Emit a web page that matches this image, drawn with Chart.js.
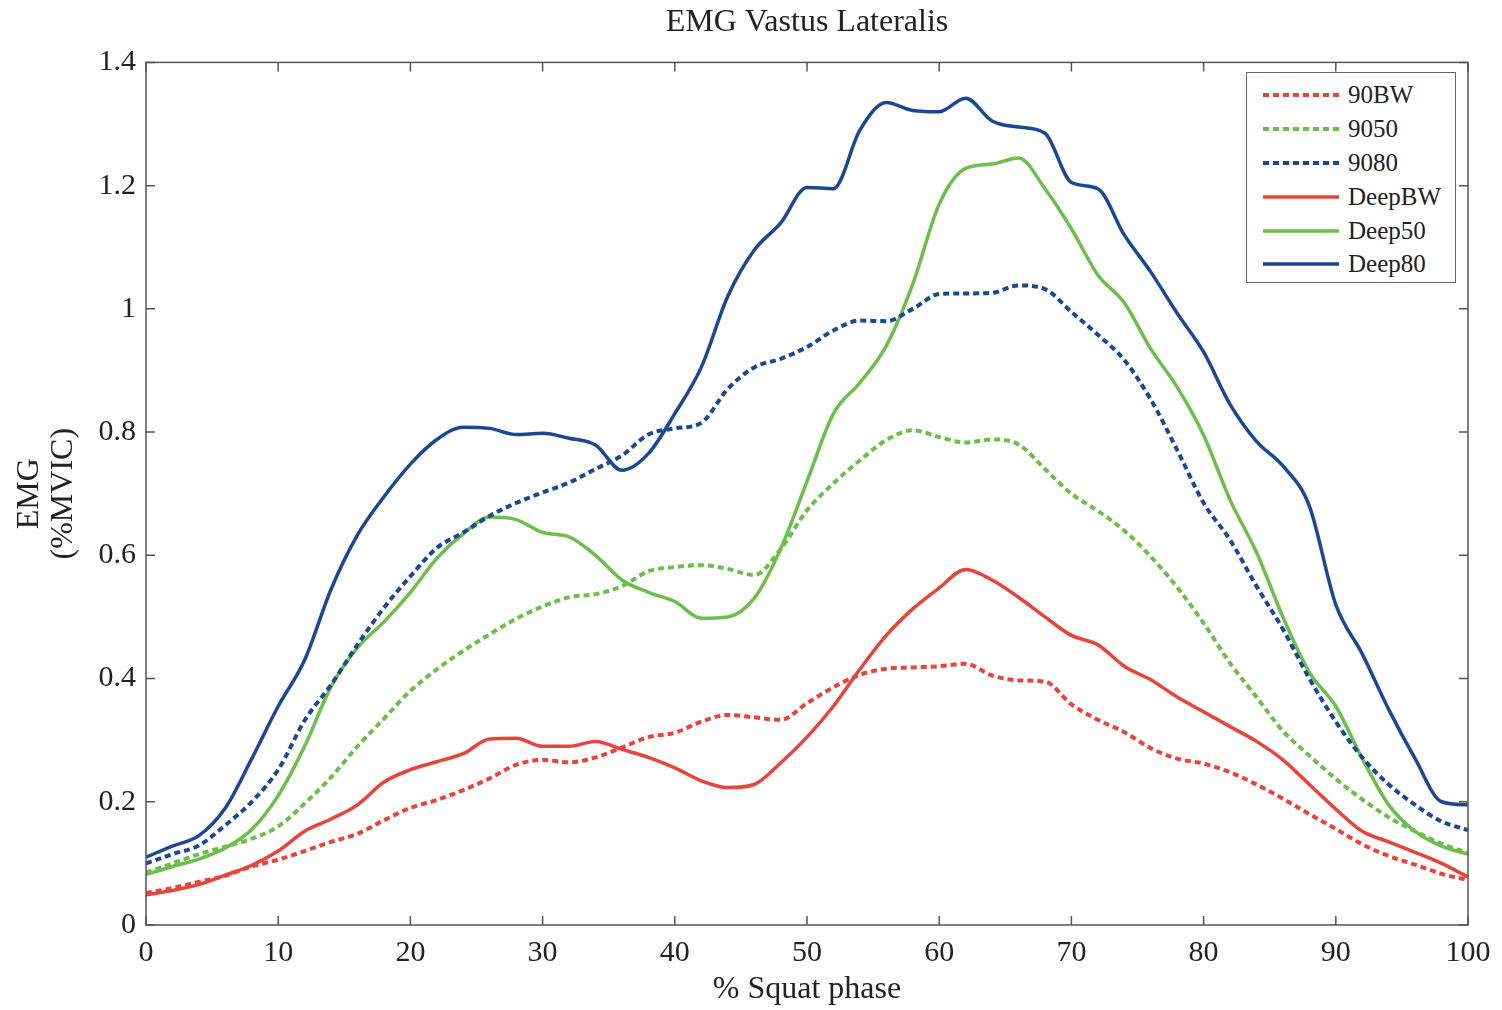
<!DOCTYPE html>
<html>
<head>
<meta charset="utf-8">
<title>EMG Vastus Lateralis</title>
<script src="https://cdn.jsdelivr.net/npm/chart.js@4.4.1/dist/chart.umd.min.js"></script>
<style>
    html, body { margin: 0; padding: 0; background: #fff; }
    #wrap { position: relative; width: 1502px; height: 1010px; }
    #legenda {
        position: absolute; left: 1246px; top: 72px; width: 210px; height: 211px;
        box-sizing: border-box; border: 1.5px solid #666; background: #fff;
        font-family: "Liberation Serif", "DejaVu Serif", serif; font-size: 25px; color: #222;
    }
    .item { position: absolute; left: 15px; height: 30px; display: flex; align-items: center; white-space: nowrap; }
    .item svg { width: 78px; height: 10px; margin-right: 8px; }
</style>
</head>
<body>
<div id="wrap">
    <canvas id="grafico-emg" width="1502" height="1010"></canvas>
    <div id="legenda"></div>
</div>
<script>
// Dados (EMG do vasto lateral, % da fase do agachamento)
const fases = [0, 2, 4, 6, 8, 10, 12, 14, 16, 18, 20, 22, 24, 26, 28, 30, 32, 34, 36, 38, 40,
    42, 44, 46, 48, 50, 52, 54, 56, 58, 60, 62, 64, 66, 68, 70, 72, 74, 76, 78, 80,
    82, 84, 86, 88, 90, 92, 94, 96, 98, 100];

const serie90BW = [0.052, 0.06, 0.07, 0.08, 0.095, 0.106, 0.12, 0.135, 0.148, 0.17, 0.19,
    0.203, 0.219, 0.238, 0.26, 0.268, 0.264, 0.272, 0.288, 0.305, 0.312,
    0.33, 0.341, 0.337, 0.333, 0.36, 0.386, 0.406, 0.416, 0.418, 0.42,
    0.424, 0.405, 0.397, 0.395, 0.358, 0.333, 0.313, 0.287, 0.27, 0.262,
    0.248, 0.228, 0.205, 0.18, 0.156, 0.131, 0.112, 0.098, 0.083, 0.073];

const serie9050 = [0.085, 0.1, 0.115, 0.127, 0.14, 0.16, 0.197, 0.24, 0.29, 0.335, 0.38,
    0.415, 0.445, 0.472, 0.497, 0.517, 0.532, 0.537, 0.55, 0.574, 0.581,
    0.584, 0.578, 0.568, 0.61, 0.673, 0.717, 0.754, 0.787, 0.803, 0.792,
    0.783, 0.788, 0.78, 0.74, 0.7, 0.672, 0.64, 0.598, 0.548, 0.49,
    0.425, 0.37, 0.315, 0.275, 0.237, 0.204, 0.175, 0.152, 0.132, 0.117];

const serie9080 = [0.1, 0.115, 0.129, 0.162, 0.2, 0.252, 0.332, 0.39, 0.455, 0.515, 0.566,
    0.612, 0.637, 0.664, 0.685, 0.702, 0.718, 0.74, 0.762, 0.796, 0.806,
    0.815, 0.87, 0.905, 0.919, 0.938, 0.965, 0.981, 0.98, 1.0, 1.024,
    1.025, 1.026, 1.038, 1.032, 0.995, 0.958, 0.917, 0.853, 0.771, 0.685,
    0.625, 0.55, 0.48, 0.4, 0.33, 0.272, 0.228, 0.195, 0.168, 0.154];

const serieDeepBW = [0.049, 0.056, 0.066, 0.081, 0.097, 0.12, 0.152, 0.172, 0.195, 0.232, 0.252,
    0.265, 0.278, 0.302, 0.303, 0.29, 0.29, 0.298, 0.285, 0.272, 0.255,
    0.234, 0.223, 0.228, 0.263, 0.305, 0.355, 0.415, 0.47, 0.513, 0.547,
    0.577, 0.56, 0.532, 0.5, 0.47, 0.455, 0.42, 0.398, 0.37, 0.346,
    0.322, 0.298, 0.268, 0.228, 0.188, 0.152, 0.135, 0.118, 0.1, 0.078];

const serieDeep50 = [0.082, 0.095, 0.107, 0.125, 0.155, 0.21, 0.29, 0.387, 0.45, 0.492, 0.54,
    0.595, 0.635, 0.662, 0.658, 0.637, 0.63, 0.6, 0.56, 0.54, 0.525,
    0.498, 0.5, 0.53, 0.61, 0.72, 0.83, 0.88, 0.94, 1.04, 1.17,
    1.228, 1.235, 1.245, 1.195, 1.13, 1.055, 1.01, 0.935, 0.873, 0.795,
    0.69, 0.605, 0.5, 0.41, 0.355, 0.27, 0.195, 0.152, 0.128, 0.115];

const serieDeep80 = [0.11, 0.128, 0.145, 0.19, 0.27, 0.355, 0.43, 0.545, 0.633, 0.695, 0.748,
    0.788, 0.808, 0.806, 0.796, 0.798, 0.79, 0.779, 0.738, 0.765, 0.83,
    0.905, 1.02, 1.095, 1.139, 1.197, 1.195, 1.29, 1.335, 1.322, 1.32,
    1.342, 1.305, 1.295, 1.285, 1.205, 1.195, 1.12, 1.06, 0.993, 0.93,
    0.845, 0.785, 0.745, 0.68, 0.52, 0.44, 0.35, 0.27, 0.2, 0.195];

const ticksX = [0, 10, 20, 30, 40, 50, 60, 70, 80, 90, 100];
const ticksY = [0, 0.2, 0.4, 0.6, 0.8, 1, 1.2, 1.4];
const rotulosY = ['0', '0.2', '0.4', '0.6', '0.8', '1', '1.2', '1.4'];

const VERMELHO = '#e8443a';
const VERDE = '#6cbf4a';
const AZUL = '#1b4896';
const FONTE = '"Liberation Serif", "DejaVu Serif", serif';
const TEXTO = '#222';

document.addEventListener('DOMContentLoaded', function() {
    criarGrafico();
});

// Monta um dataset a partir de uma série
function serie(nome, valores, cor, tracejado) {
    return {
        label: nome,
        data: fases.map((x, i) => ({ x: x, y: valores[i] })),
        borderColor: cor,
        backgroundColor: cor,
        borderWidth: tracejado ? 4 : 3.5,
        borderDash: tracejado ? [6, 4] : [],
        pointRadius: 0,
        cubicInterpolationMode: 'monotone',
        fill: false
    };
}

// Moldura com marcas internas nos quatro lados (estilo MATLAB)
const moldura = {
    id: 'moldura',
    afterDatasetsDraw(chart) {
        const { ctx, chartArea: a, scales } = chart;
        ctx.save();
        ctx.strokeStyle = '#555';
        ctx.lineWidth = 1.5;
        ctx.strokeRect(a.left, a.top, a.right - a.left, a.bottom - a.top);
        ctx.beginPath();
        scales.x.ticks.forEach(t => {
            const px = scales.x.getPixelForValue(t.value);
            ctx.moveTo(px, a.bottom); ctx.lineTo(px, a.bottom - 9);
            ctx.moveTo(px, a.top); ctx.lineTo(px, a.top + 9);
        });
        scales.y.ticks.forEach(t => {
            const py = scales.y.getPixelForValue(t.value);
            ctx.moveTo(a.left, py); ctx.lineTo(a.left + 9, py);
            ctx.moveTo(a.right, py); ctx.lineTo(a.right - 9, py);
        });
        ctx.stroke();
        ctx.restore();
    }
};

function criarGrafico() {
    const ctx = document.getElementById('grafico-emg');
    const fonteTicks = { family: FONTE, size: 30 };
    const fonteTitulos = { family: FONTE, size: 32, lineHeight: 1.2 };

    const grafico = new Chart(ctx, {
        type: 'line',
        data: {
            datasets: [
                serie('90BW', serie90BW, VERMELHO, true),
                serie('9050', serie9050, VERDE, true),
                serie('9080', serie9080, AZUL, true),
                serie('DeepBW', serieDeepBW, VERMELHO, false),
                serie('Deep50', serieDeep50, VERDE, false),
                serie('Deep80', serieDeep80, AZUL, false)
            ]
        },
        options: {
            responsive: false,
            animation: false,
            layout: { padding: { top: 0, right: 34, bottom: 0, left: 0 } },
            plugins: {
                legend: { display: false },
                tooltip: { enabled: false },
                title: {
                    display: true,
                    fullSize: false,
                    text: 'EMG Vastus Lateralis',
                    color: TEXTO,
                    font: { family: FONTE, size: 32, weight: 'normal', lineHeight: 1.2 },
                    padding: { top: 3, bottom: 21 }
                }
            },
            scales: {
                x: {
                    type: 'linear',
                    min: 0,
                    max: 100,
                    afterBuildTicks: s => { s.ticks = ticksX.map(v => ({ value: v })); },
                    afterFit: s => { s.height = 85; },
                    grid: { display: false, drawTicks: false },
                    border: { display: false },
                    ticks: { color: TEXTO, font: fonteTicks, padding: 10, maxRotation: 0 },
                    title: {
                        display: true,
                        text: '% Squat phase',
                        color: TEXTO,
                        font: fonteTitulos,
                        padding: { top: 0, bottom: 1 }
                    }
                },
                y: {
                    min: 0,
                    max: 1.4,
                    afterBuildTicks: s => { s.ticks = ticksY.map(v => ({ value: v })); },
                    afterFit: s => { s.width = 146; },
                    grid: { display: false, drawTicks: false },
                    border: { display: false },
                    ticks: {
                        color: TEXTO,
                        font: fonteTicks,
                        padding: 10,
                        callback: (v, i) => rotulosY[i]
                    },
                    title: {
                        display: true,
                        text: ['EMG', '(%MVIC)'],
                        color: TEXTO,
                        font: { family: FONTE, size: 32, lineHeight: 1.05 },
                        padding: { top: 13, bottom: 0 }
                    }
                }
            }
        },
        plugins: [moldura]
    });

    criarLegenda(grafico);
}

// Legenda em HTML, posicionada dentro da área do gráfico
function criarLegenda(grafico) {
    const caixa = document.getElementById('legenda');
    const centros = [22, 56, 90, 124, 158, 191];

    grafico.data.datasets.forEach((ds, i) => {
        const item = document.createElement('div');
        item.className = 'item';
        item.style.top = (centros[i] - 15) + 'px';
        const traco = ds.borderDash.length ? ' stroke-dasharray="' + ds.borderDash.join(' ') + '"' : '';
        item.innerHTML = '<svg viewBox="0 0 78 10"><line x1="1" y1="5" x2="77" y2="5" stroke="' +
            ds.borderColor + '" stroke-width="' + ds.borderWidth + '"' + traco + '/></svg>' +
            '<span>' + ds.label + '</span>';
        caixa.appendChild(item);
    });
}
</script>
</body>
</html>
